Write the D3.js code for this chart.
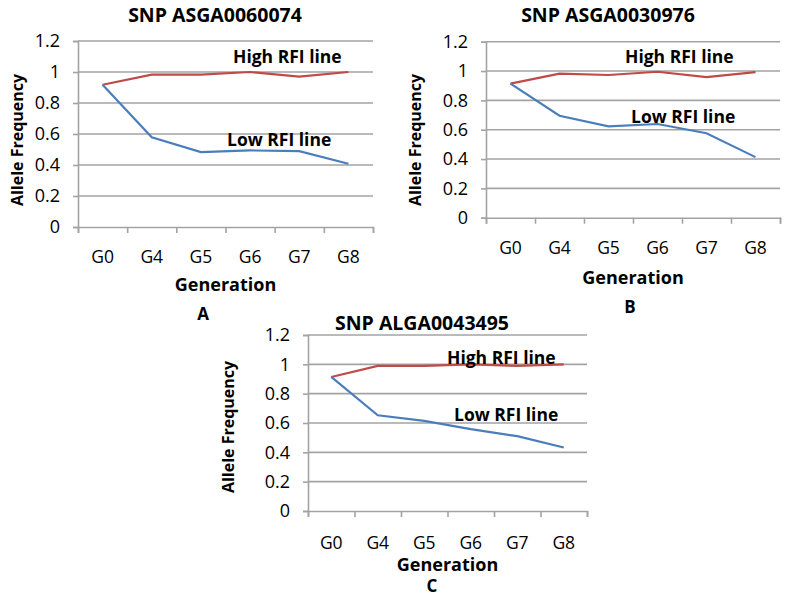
<!DOCTYPE html>
<html>
<head>
<meta charset="utf-8">
<script src="https://cdn.jsdelivr.net/npm/d3@7"></script>
<style>
  body { margin: 0; background: #fff; }
  svg text { font-family: "Open Sans", Lato, sans-serif; fill: #000; }
</style>
</head>
<body>
<div id="chart"></div>
<script>
// Data
const generations = ["G0", "G4", "G5", "G6", "G7", "G8"];
const yTicks = [0, 0.2, 0.4, 0.6, 0.8, 1, 1.2];

const highA = [0.918, 0.983, 0.983, 1.0, 0.970, 1.0];
const lowA  = [0.918, 0.579, 0.483, 0.494, 0.489, 0.408];

const highB = [0.914, 0.982, 0.973, 0.995, 0.959, 0.993];
const lowB  = [0.914, 0.695, 0.623, 0.639, 0.576, 0.413];

const highC = [0.914, 0.989, 0.989, 1.0, 0.989, 1.0];
const lowC  = [0.914, 0.653, 0.614, 0.558, 0.510, 0.433];

const titles = ["SNP ASGA0060074", "SNP ASGA0030976", "SNP ALGA0043495"];
const panelLetters = ["A", "B", "C"];

const RED = "#be4b48";
const BLUE = "#4a7ebb";
const GRID = "#a3a3a3";

// Layout for each panel
const panels = [
    { title: titles[0], letter: panelLetters[0], high: highA, low: lowA,
      left: 78, right: 373, top: 41, bottom: 227,
      titleX: 215, titleY: 15, yLabelX: 17, yLabelY: 140, xTickY: 257, xLabelY: 285,
      letterX: 203, letterY: 314,
      highText: [233, 57], lowText: [227, 140] },
    { title: titles[1], letter: panelLetters[1], high: highB, low: lowB,
      left: 486, right: 780, top: 41.7, bottom: 217.7,
      titleX: 608, titleY: 15, yLabelX: 415, yLabelY: 140, xTickY: 248, xLabelY: 278,
      letterX: 630, letterY: 307,
      highText: [625, 57], lowText: [631, 117] },
    { title: titles[2], letter: panelLetters[2], high: highC, low: lowC,
      left: 308, right: 587, top: 335, bottom: 511,
      titleX: 422, titleY: 323, yLabelX: 228, yLabelY: 427, xTickY: 543, xLabelY: 565,
      letterX: 432, letterY: 586,
      highText: [447, 358], lowText: [454, 415] }
];

const svg = d3.select("#chart")
    .append("svg")
    .attr("width", 786)
    .attr("height", 605);

function drawPanel(p) {
    const g = svg.append("g");

    const x = d3.scaleBand()
        .domain(generations)
        .range([p.left, p.right])
        .padding(0);

    const xEdge = d3.scaleLinear()
        .domain([0, generations.length])
        .range([p.left, p.right]);

    const y = d3.scaleLinear()
        .domain([0, 1.2])
        .range([p.bottom, p.top]);

    // Gridlines
    g.append("g")
        .selectAll("line")
        .data(yTicks.filter(d => d > 0))
        .enter()
        .append("line")
        .attr("x1", p.left)
        .attr("x2", p.right)
        .attr("y1", d => y(d))
        .attr("y2", d => y(d))
        .attr("stroke", GRID)
        .attr("stroke-width", 1.6);

    // Y axis
    const yAxis = g.append("g")
        .attr("transform", `translate(${p.left},0)`)
        .call(d3.axisLeft(y).tickValues(yTicks).tickSize(5).tickPadding(13)
            .tickFormat(d => d3.format("")(+d.toFixed(1))));
    yAxis.select(".domain").attr("stroke", GRID).attr("stroke-width", 1.6);
    yAxis.selectAll(".tick line").attr("stroke", GRID).attr("stroke-width", 1.6);
    yAxis.selectAll("text").style("font-size", "18px").attr("fill", "#000");

    // X axis (tick marks at category boundaries)
    const xAxis = g.append("g")
        .attr("transform", `translate(0,${p.bottom})`)
        .call(d3.axisBottom(xEdge).tickValues(d3.range(generations.length + 1))
            .tickSize(6).tickFormat(""));
    xAxis.select(".domain").attr("stroke", GRID).attr("stroke-width", 1.6);
    xAxis.selectAll(".tick line").attr("stroke", GRID).attr("stroke-width", 1.6);

    // X tick labels
    g.append("g")
        .selectAll("text")
        .data(generations)
        .enter()
        .append("text")
        .attr("x", d => x(d) + x.bandwidth() / 2)
        .attr("y", p.xTickY)
        .attr("dy", "0.35em")
        .attr("text-anchor", "middle")
        .style("font-size", "17.5px")
        .text(d => d);

    // Lines
    const line = d3.line()
        .x((d, i) => x(generations[i]) + x.bandwidth() / 2)
        .y(d => y(d));

    g.append("path")
        .datum(p.high)
        .attr("fill", "none")
        .attr("stroke", RED)
        .attr("stroke-width", 2.2)
        .attr("d", line);

    g.append("path")
        .datum(p.low)
        .attr("fill", "none")
        .attr("stroke", BLUE)
        .attr("stroke-width", 2.2)
        .attr("d", line);

    // Labels
    g.append("text")
        .attr("x", p.titleX)
        .attr("y", p.titleY)
        .attr("dy", "0.35em")
        .attr("text-anchor", "middle")
        .style("font-size", "19.5px")
        .style("font-weight", "bold")
        .text(p.title);

    g.append("text")
        .attr("transform", `translate(${p.yLabelX},${p.yLabelY}) rotate(-90)`)
        .attr("dy", "0.35em")
        .attr("text-anchor", "middle")
        .style("font-size", "16px")
        .style("font-weight", "bold")
        .text("Allele Frequency");

    g.append("text")
        .attr("x", (p.left + p.right) / 2)
        .attr("y", p.xLabelY)
        .attr("dy", "0.35em")
        .attr("text-anchor", "middle")
        .style("font-size", "18px")
        .style("font-weight", "bold")
        .text("Generation");

    g.append("text")
        .attr("x", p.letterX)
        .attr("y", p.letterY)
        .attr("dy", "0.35em")
        .attr("text-anchor", "middle")
        .style("font-size", "17px")
        .style("font-weight", "bold")
        .text(p.letter);

    g.append("text")
        .attr("x", p.highText[0])
        .attr("y", p.highText[1])
        .attr("dy", "0.35em")
        .style("font-size", "17.5px")
        .style("font-weight", "bold")
        .text("High RFI line");

    g.append("text")
        .attr("x", p.lowText[0])
        .attr("y", p.lowText[1])
        .attr("dy", "0.35em")
        .style("font-size", "17.5px")
        .style("font-weight", "bold")
        .text("Low RFI line");
}

panels.forEach(drawPanel);
</script>
</body>
</html>
